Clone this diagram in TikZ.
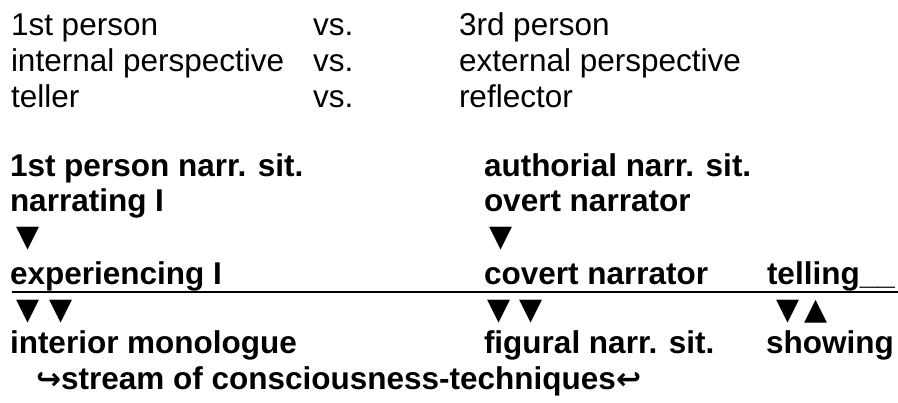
\documentclass[tikz,border=0pt]{standalone}
\usepackage{fontspec}
\setmainfont{Liberation Sans}
\newfontfamily\symfont{DejaVu Sans}
\begin{document}
\begin{tikzpicture}[x=1pt,y=-1pt,
  every node/.style={inner sep=0pt,outer sep=0pt,anchor=base west},
  plain/.style={font=\fontsize{31.5}{36}\selectfont},
  heavy/.style={font=\fontsize{31.5}{36}\selectfont\bfseries},
  tri/.style={font=\fontsize{30}{30}\selectfont\symfont, anchor=center},
  rule/.style={line width=1.5pt},
]
\useasboundingbox (0,0) rectangle (898,403);
% plain rows
\node[plain] (a1) at (11,36) {1st person};
\node[plain] (b1) at (313,36) {vs.};
\node[plain] (c1) at (459,36) {3rd person};
\node[plain] (a2) at (11,72) {internal perspective};
\node[plain] (b2) at (313,72) {vs.};
\node[plain] (c2) at (459,72) {external perspective};
\node[plain] (a3) at (11,108) {teller};
\node[plain] (b3) at (313,108) {vs.};
\node[plain] (c3) at (459,108) {reflector};
% bold rows
\node[heavy] (d1) at (10,177) {1st person narr. sit.};
\node[heavy] (e1) at (484,177) {authorial narr. sit.};
\node[heavy] (d2) at (10,212) {narrating I};
\node[heavy] (e2) at (484,212) {overt narrator};
\node[tri] (td) at (28,239) {▼};
\node[tri] (te) at (501,239) {▼};
\node[heavy] (d3) at (10,285) {experiencing I};
\node[heavy] (e3) at (484,285) {covert narrator};
\node[heavy] (f3) at (767,285) {telling\_\_};
\coordinate (l0) at (12,292);
\coordinate (l1) at (898,292);
\draw[rule] (l0) -- (l1);
\node[tri] (td1) at (28,312) {▼};
\node[tri] (td2) at (61,312) {▼};
\node[tri] (te1) at (499,312) {▼};
\node[tri] (te2) at (531,312) {▼};
\node[tri] (tf1) at (788,312) {▼};
\node[tri] (tf2) at (816,312) {▲};
\node[heavy] (d4) at (10,354) {interior monologue};
\node[heavy] (e4) at (484,354) {figural narr. sit.};
\node[heavy] (f4) at (766,354) {showing};
\node[heavy] (d5) at (36,390) {{\symfont\bfseries\fontsize{30}{30}\selectfont ↪}stream of consciousness-techniques{\symfont\bfseries\fontsize{30}{30}\selectfont ↩}};
\end{tikzpicture}
\end{document}
